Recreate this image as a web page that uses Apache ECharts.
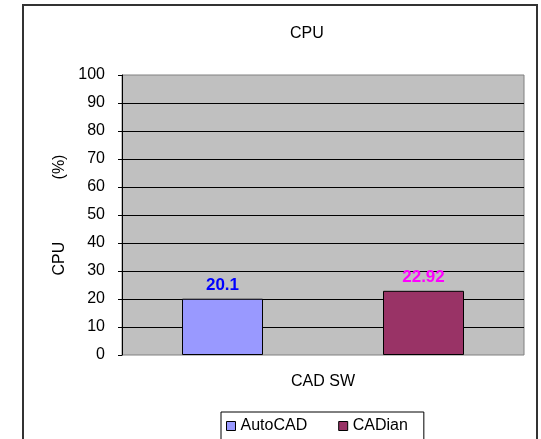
<!DOCTYPE html>
<html>
<head>
<meta charset="utf-8">
<script src="https://cdn.jsdelivr.net/npm/echarts@6/dist/echarts.min.js"></script>
<style>
  html, body { margin: 0; padding: 0; background: #fff; }
  #chart { width: 541px; height: 439px; }
</style>
</head>
<body>
<div id="chart"></div>
<script>
// chart data
const categories = ['AutoCAD', 'CADian'];
const cpuUsage = [20.1, 22.92];
const barColors = ['#9999ff', '#993366'];
const labelColors = ['#0000ff', '#ff00ff'];

const font = '"Liberation Sans", Arial, sans-serif';

const chart = echarts.init(document.getElementById('chart'));

// one series per product, each holding a single value at its own category
const series = categories.map((name, i) => ({
  name: name,
  type: 'bar',
  barWidth: 81,
  barGap: '-100%',
  data: categories.map((c, j) => (j === i ? cpuUsage[i] : '-')),
  itemStyle: { color: barColors[i], borderColor: '#000', borderWidth: 1 },
  label: {
    show: true,
    position: 'top',
    distance: 5,
    color: labelColors[i],
    fontFamily: font,
    fontWeight: 'bold',
    fontSize: 17
  }
}));

chart.setOption({
  animation: false,
  backgroundColor: '#fff',
  title: {
    text: 'CPU',
    left: 285,
    top: 21,
    textStyle: { fontFamily: font, fontSize: 16, fontWeight: 'normal', color: '#000' }
  },
  legend: {
    data: categories,
    left: 221,
    top: 412,
    icon: 'rect',
    itemWidth: 9,
    itemHeight: 9,
    itemGap: 31,
    padding: [6, 16, 10, 5],
    borderColor: '#000',
    borderWidth: 1,
    itemStyle: { borderColor: '#000', borderWidth: 1 },
    textStyle: { fontFamily: font, fontSize: 16, color: '#000' }
  },
  grid: {
    left: 122,
    right: 17,
    top: 75,
    bottom: 84,
    show: true,
    backgroundColor: '#c0c0c0',
    borderColor: '#808080',
    borderWidth: 1
  },
  xAxis: {
    type: 'category',
    data: categories,
    name: 'CAD SW',
    nameLocation: 'middle',
    nameGap: 19,
    nameTextStyle: { fontFamily: font, fontSize: 16, color: '#000' },
    axisLine: { show: false },
    axisTick: { show: false },
    axisLabel: { show: false }
  },
  yAxis: {
    type: 'value',
    min: 0,
    max: 100,
    interval: 10,
    name: 'CPU              (%)',
    nameLocation: 'middle',
    nameGap: 49,
    nameTextStyle: { fontFamily: font, fontSize: 16, color: '#000' },
    axisLine: { show: true, lineStyle: { color: '#000', width: 1 } },
    axisTick: { show: true, length: 4, lineStyle: { color: '#000' } },
    axisLabel: { fontFamily: font, fontSize: 16, color: '#000', margin: 17 },
    splitLine: {
      show: true,
      showMinLine: false,
      showMaxLine: false,
      lineStyle: { color: '#000', width: 1 }
    }
  },
  graphic: [{
    type: 'rect',
    silent: true,
    z: 100,
    shape: { x: 23, y: 5, width: 514, height: 470 },
    style: { fill: 'none', stroke: '#333', lineWidth: 2 }
  }],
  series: series
});
</script>
</body>
</html>
